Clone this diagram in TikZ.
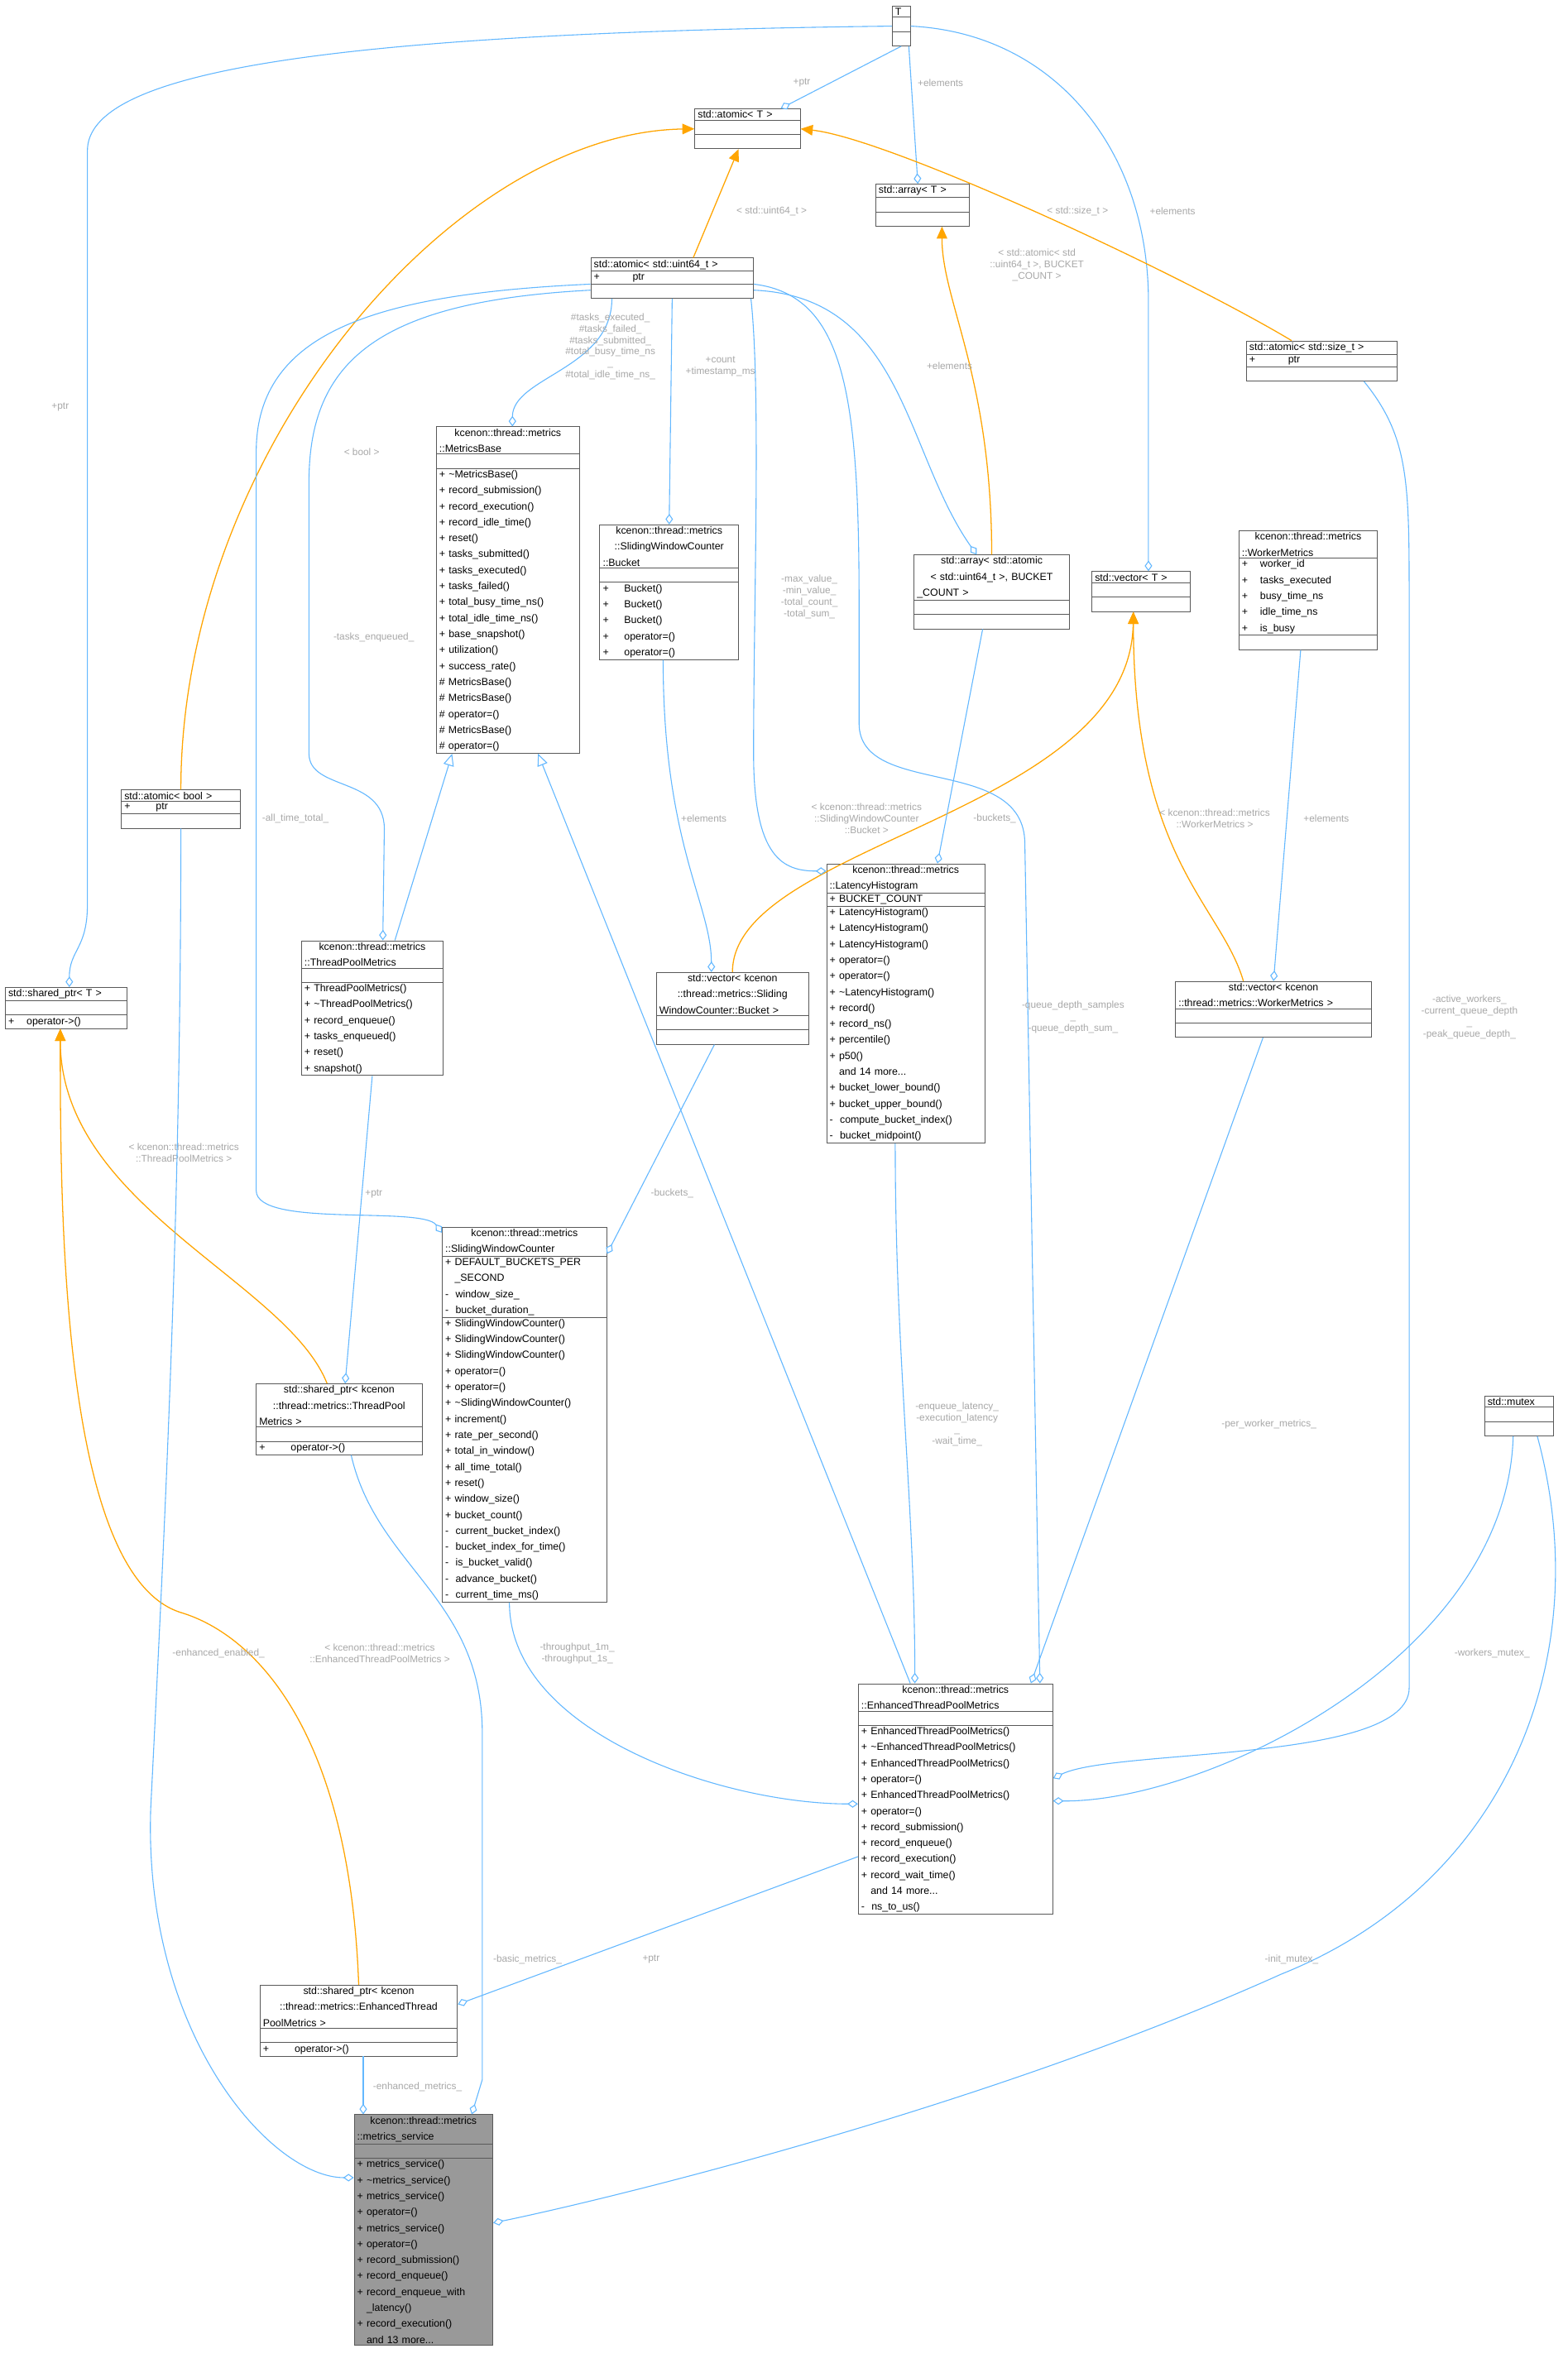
\documentclass[tikz,border=0pt]{standalone}
\usepackage{fontspec}
\setmainfont{Liberation Sans}
\usetikzlibrary{shapes.multipart,arrows.meta}
\definecolor{eb}{HTML}{63B8FF}
\definecolor{eo}{HTML}{FFA500}
\definecolor{lbl}{HTML}{A8A8A8}
\newcommand\es{\rule{0pt}{7pt}}
\tikzset{
 cls/.style={draw=black!65, fill=white, rectangle split, rectangle split parts=3,
   text width=#1pt, inner xsep=2pt, inner ysep=1pt, anchor=north, line width=0.5pt,
   font=\fontsize{6.8}{10.6}\selectfont},
 co/.style={eb, line width=0.6pt, -{Diamond[open,length=7pt,width=5pt]}},
 inh/.style={eb, line width=0.6pt, -{Triangle[open,length=8pt,width=7pt]}},
 tpl/.style={eo, line width=0.7pt, -{Triangle[length=8pt,width=7pt]}},
 lb/.style={lbl, font=\fontsize{6.5}{7.6}\selectfont, align=center, inner sep=0pt},
}
\begin{document}
\begin{tikzpicture}[x=1pt,y=-1pt]
\useasboundingbox[fill=white] (0,0) rectangle (1040,1568);
% nodes
\node[cls=8] (T) at (598,4) {\centering T\nodepart{two}\es\nodepart{three}\es};
\node[cls=66] (aT) at (496,72) {\centering std::atomic< T >\nodepart{two}\es\nodepart{three}\es};
\node[cls=58] (arT) at (612,122) {\centering std::array< T >\nodepart{two}\es\nodepart{three}\es};
\node[cls=104] (au) at (446,171) {\centering std::atomic< std::uint64\_t >\nodepart{two}\raggedright +\hspace{3.2em}ptr\nodepart{three}\es};
\node[cls=96] (as) at (877,226) {\centering std::atomic< std::size\_t >\nodepart{two}\raggedright +\hspace{3.2em}ptr\nodepart{three}\es};
\node[cls=91] (mb) at (337,283) {\centering kcenon::thread::metrics\\::MetricsBase\nodepart{two}\es\nodepart{three}\raggedright
+ \textasciitilde MetricsBase()\\+ record\_submission()\\+ record\_execution()\\+ record\_idle\_time()\\+ reset()\\+ tasks\_submitted()\\+ tasks\_executed()\\+ tasks\_failed()\\+ total\_busy\_time\_ns()\\+ total\_idle\_time\_ns()\\+ base\_snapshot()\\+ utilization()\\+ success\_rate()\\\# MetricsBase()\\\# MetricsBase()\\\# operator=()\\\# MetricsBase()\\\# operator=()};
\node[cls=88] (bk) at (444,348) {\centering kcenon::thread::metrics\\::SlidingWindowCounter\\::Bucket\nodepart{two}\es\nodepart{three}\raggedright
+\hspace{1.5em}Bucket()\\+\hspace{1.5em}Bucket()\\+\hspace{1.5em}Bucket()\\+\hspace{1.5em}operator=()\\+\hspace{1.5em}operator=()};
\node[cls=99] (aa) at (658,368) {\centering std::array< std::atomic\\< std::uint64\_t >, BUCKET\\\_COUNT >\nodepart{two}\es\nodepart{three}\es};
\node[cls=61] (vT) at (757,379) {\centering std::vector< T >\nodepart{two}\es\nodepart{three}\es};
\node[cls=88] (wm) at (868,352) {\centering kcenon::thread::metrics\\::WorkerMetrics\nodepart{two}\raggedright
+\hspace{1.2em}worker\_id\\+\hspace{1.2em}tasks\_executed\\+\hspace{1.2em}busy\_time\_ns\\+\hspace{1.2em}idle\_time\_ns\\+\hspace{1.2em}is\_busy\nodepart{three}\es};
\node[cls=75] (ab) at (120,524) {\centering std::atomic< bool >\nodepart{two}\raggedright +\hspace{2.5em}ptr\nodepart{three}\es};
\node[cls=90] (tpm) at (247,624) {\centering kcenon::thread::metrics\\::ThreadPoolMetrics\nodepart{two}\es\nodepart{three}\raggedright
+ ThreadPoolMetrics()\\+ \textasciitilde ThreadPoolMetrics()\\+ record\_enqueue()\\+ tasks\_enqueued()\\+ reset()\\+ snapshot()};
\node[cls=77] (spT) at (44,655) {\centering std::shared\_ptr< T >\nodepart{two}\es\nodepart{three}\raggedright +\hspace{1.2em}operator->()};
\node[cls=97] (vb) at (486,645) {\centering std::vector< kcenon\\::thread::metrics::Sliding\\WindowCounter::Bucket >\nodepart{two}\es\nodepart{three}\es};
\node[cls=101] (lh) at (601,573) {\centering kcenon::thread::metrics\\::LatencyHistogram\nodepart{two}\raggedright + BUCKET\_COUNT\nodepart{three}\raggedright
+ LatencyHistogram()\\+ LatencyHistogram()\\+ LatencyHistogram()\\+ operator=()\\+ operator=()\\+ \textasciitilde LatencyHistogram()\\+ record()\\+ record\_ns()\\+ percentile()\\+ p50()\\\phantom{+ }and 14 more...\\+ bucket\_lower\_bound()\\+ bucket\_upper\_bound()\\- \ compute\_bucket\_index()\\- \ bucket\_midpoint()};
\node[cls=126] (vw) at (845,651) {\centering std::vector< kcenon\\::thread::metrics::WorkerMetrics >\nodepart{two}\es\nodepart{three}\es};
\node[cls=105] (swc) at (348,814) {\centering kcenon::thread::metrics\\::SlidingWindowCounter\nodepart{two}\raggedright
+ DEFAULT\_BUCKETS\_PER\\\phantom{+ }\_SECOND\\- \ window\_size\_\\- \ bucket\_duration\_\nodepart{three}\raggedright
+ SlidingWindowCounter()\\+ SlidingWindowCounter()\\+ SlidingWindowCounter()\\+ operator=()\\+ operator=()\\+ \textasciitilde SlidingWindowCounter()\\+ increment()\\+ rate\_per\_second()\\+ total\_in\_window()\\+ all\_time\_total()\\+ reset()\\+ window\_size()\\+ bucket\_count()\\- \ current\_bucket\_index()\\- \ bucket\_index\_for\_time()\\- \ is\_bucket\_valid()\\- \ advance\_bucket()\\- \ current\_time\_ms()};
\node[cls=106] (sptpm) at (225,918) {\centering std::shared\_ptr< kcenon\\::thread::metrics::ThreadPool\\Metrics >\nodepart{two}\es\nodepart{three}\raggedright +\hspace{2.5em}operator->()};
\node[cls=42] (mx) at (1008,926) {\centering std::mutex\nodepart{two}\es\nodepart{three}\es};
\node[cls=125] (etpm) at (634,1117) {\centering kcenon::thread::metrics\\::EnhancedThreadPoolMetrics\nodepart{two}\es\nodepart{three}\raggedright
+ EnhancedThreadPoolMetrics()\\+ \textasciitilde EnhancedThreadPoolMetrics()\\+ EnhancedThreadPoolMetrics()\\+ operator=()\\+ EnhancedThreadPoolMetrics()\\+ operator=()\\+ record\_submission()\\+ record\_enqueue()\\+ record\_execution()\\+ record\_wait\_time()\\\phantom{+ }and 14 more...\\- \ ns\_to\_us()};
\node[cls=127] (spE) at (238,1317) {\centering std::shared\_ptr< kcenon\\::thread::metrics::EnhancedThread\\PoolMetrics >\nodepart{two}\es\nodepart{three}\raggedright +\hspace{2.5em}operator->()};
\node[cls=88, fill=black!40] (ms) at (281,1403) {\centering kcenon::thread::metrics\\::metrics\_service\nodepart{two}\es\nodepart{three}\raggedright
+ metrics\_service()\\+ \textasciitilde metrics\_service()\\+ metrics\_service()\\+ operator=()\\+ metrics\_service()\\+ operator=()\\+ record\_submission()\\+ record\_enqueue()\\+ record\_enqueue\_with\\\phantom{+ }\_latency()\\+ record\_execution()\\\phantom{+ }and 13 more...};
% edges
\draw[co] (T.south) -- ([xshift=22pt]aT.north);
\node[lb] (l1) at (532,55) {+ptr};
\draw[co] ([xshift=5pt]T.south) -- ([xshift=-3pt]arT.north);
\node[lb] (l2) at (624,55) {+elements};
\draw[co] (T.east) .. controls (700,22) and (762,100) .. (762,200) -- ([xshift=5pt]vT.north);
\node[lb] (l3) at (778,140) {+elements};
\draw[co] (T.west) .. controls (200,22) and (58,50) .. (58,100) -- (58,600) .. controls (58,630) and (46,630) .. ([xshift=2pt]spT.north);
\node[lb] (l4) at (40,270) {+ptr};
\draw[tpl] ([xshift=14pt]au.north) -- ([xshift=-6pt]aT.south);
\node[lb] (l5) at (512,140) {< std::uint64\_t >};
\draw[tpl] ([xshift=-20pt]as.north) .. controls (780,180) and (590,92) .. (aT.east);
\node[lb] (l6) at (715,140) {< std::size\_t >};
\draw[tpl] (ab.north) .. controls (120,300) and (300,88) .. (aT.west);
\node[lb] (l7) at (240,300) {< bool >};
\draw[tpl] (aa.north) .. controls (658,250) and (625,200) .. ([xshift=13pt]arT.south);
\node[lb] (l8) at (688,176) {< std::atomic< std\\::uint64\_t >, BUCKET\\\_COUNT >};
\draw[tpl] (vb.north) .. controls (486,560) and (750,540) .. ([xshift=-5pt]vT.south);
\node[lb] (l9) at (575,543) {< kcenon::thread::metrics\\::SlidingWindowCounter\\::Bucket >};
\draw[tpl] ([xshift=-20pt]vw.north) .. controls (810,600) and (752,570) .. ([xshift=-5pt]vT.south);
\node[lb] (l10) at (806,543) {< kcenon::thread::metrics\\::WorkerMetrics >};
\draw[tpl] ([xshift=-8pt]sptpm.north) .. controls (190,850) and (40,800) .. ([xshift=-4pt]spT.south);
\node[lb] (l11) at (122,765) {< kcenon::thread::metrics\\::ThreadPoolMetrics >};
\draw[tpl] (spE.north) .. controls (232,1150) and (170,1085) .. (120,1070) .. controls (40,1045) and (40,800) .. ([xshift=-4pt]spT.south);
\node[lb] (l12) at (252,1097) {< kcenon::thread::metrics\\::EnhancedThreadPoolMetrics >};
\draw[co] ([xshift=-40pt]au.south) .. controls (406,245) and (340,250) .. ([xshift=3pt]mb.north);
\node[lb] (l13) at (405,230) {\#tasks\_executed\_\\\#tasks\_failed\_\\\#tasks\_submitted\_\\\#total\_busy\_time\_ns\\\_\\\#total\_idle\_time\_ns\_};
\draw[co] (au.south) -- (bk.north);
\node[lb] (l14) at (478,243) {+count\\+timestamp\_ms};
\draw[co] ([yshift=-8pt]au.east) .. controls (600,197) and (600,300) .. ([xshift=-10pt]aa.north);
\node[lb] (l15) at (630,243) {+elements};
\draw[co] ([yshift=-8pt]au.west) .. controls (250,200) and (205,240) .. (205,320) -- (205,500) .. controls (205,525) and (255,515) .. (255,550) -- ([xshift=7pt]tpm.north);
\node[lb] (l16) at (248,423) {-tasks\_enqueued\_};
\draw[co] ([yshift=-4pt]au.west) .. controls (250,195) and (170,220) .. (170,300) -- (170,790) .. controls (170,815) and (280,800) .. ([yshift=-4pt]swc.north west);
\node[lb] (l17) at (196,543) {-all\_time\_total\_};
\draw[co] ([xshift=-2pt]au.south east) .. controls (505,260) and (500,400) .. (500,500) .. controls (500,570) and (520,578) .. ([yshift=-5pt]lh.north west);
\node[lb] (l18) at (537,396) {-max\_value\_\\-min\_value\_\\-total\_count\_\\-total\_sum\_};
\draw[co] ([yshift=-4pt]au.east) .. controls (560,196) and (570,260) .. (570,400) -- (570,480) .. controls (570,530) and (680,500) .. (680,560) -- ([xshift=56pt]etpm.north);
\node[lb] (l19) at (712,675) {-queue\_depth\_samples\\\_\\-queue\_depth\_sum\_};
\draw[inh] ([xshift=15pt]tpm.north) -- ([xshift=-37pt]mb.south);
\draw[inh] ([xshift=-30pt]etpm.north) -- ([xshift=20pt]mb.south);
\draw[co] ([xshift=-4pt]bk.south) .. controls (440,560) and (472,600) .. ([xshift=-14pt]vb.north);
\node[lb] (l22) at (467,543) {+elements};
\draw[co] ([xshift=-6pt]aa.south) -- ([xshift=21pt]lh.north);
\node[lb] (l23) at (660,543) {-buckets\_};
\draw[co] ([xshift=-5pt]wm.south) -- (vw.north);
\node[lb] (l24) at (880,543) {+elements};
\draw[co] ([xshift=-12pt]vb.south) -- ([yshift=-18pt]swc.north east);
\node[lb] (l25) at (446,792) {-buckets\_};
\draw[co] (tpm.south) -- ([xshift=4pt]sptpm.north);
\node[lb] (l26) at (248,792) {+ptr};
\draw[co] ([xshift=-7pt]lh.south) .. controls (594,900) and (607,1000) .. ([xshift=-27pt]etpm.north);
\node[lb] (l27) at (635,945) {-enqueue\_latency\_\\-execution\_latency\\\_\\-wait\_time\_};
\draw[co] ([xshift=-7pt]vw.south) -- ([xshift=50pt]etpm.north);
\node[lb] (l28) at (842,945) {-per\_worker\_metrics\_};
\draw[co] ([xshift=28pt]as.south) .. controls (935,290) and (935,320) .. (935,400) -- (935,1120) .. controls (935,1170) and (740,1160) .. ([yshift=-63pt]etpm.north east);
\node[lb] (l29) at (975,675) {-active\_workers\_\\-current\_queue\_depth\\\_\\-peak\_queue\_depth\_};
\draw[co] ([xshift=-10pt]swc.south) .. controls (338,1150) and (480,1197) .. ([yshift=-80pt]etpm.north west);
\node[lb] (l30) at (383,1097) {-throughput\_1m\_\\-throughput\_1s\_};
\draw[co] ([xshift=-4pt]mx.south) .. controls (1000,1100) and (800,1196) .. ([yshift=-78pt]etpm.north east);
\node[lb] (l31) at (990,1097) {-workers\_mutex\_};
\draw[co] ([yshift=-115pt]etpm.north west) -- ([yshift=-13pt]spE.north east);
\node[lb] (l32) at (432,1300) {+ptr};
\draw[co] (ab.south) .. controls (120,800) and (110,1000) .. (100,1200) .. controls (95,1350) and (180,1445) .. ([yshift=-42pt]ms.north west);
\node[lb] (l33) at (145,1097) {-enhanced\_enabled\_};
\draw[co] ([xshift=8pt]sptpm.south) .. controls (250,1040) and (320,1060) .. (320,1150) -- (320,1380) -- ([xshift=32pt]ms.north);
\node[lb] (l34) at (350,1300) {-basic\_metrics\_};
\draw[co] ([xshift=3pt]spE.south) -- ([xshift=-40pt]ms.north);
\node[lb] (l35) at (277,1385) {-enhanced\_metrics\_};
\draw[co] ([xshift=12pt]mx.south) .. controls (1060,1100) and (1000,1250) .. (850,1310) .. controls (650,1400) and (400,1460) .. ([yshift=-72pt]ms.north east);
\node[lb] (l36) at (857,1300) {-init\_mutex\_};
\end{tikzpicture}
\end{document}
